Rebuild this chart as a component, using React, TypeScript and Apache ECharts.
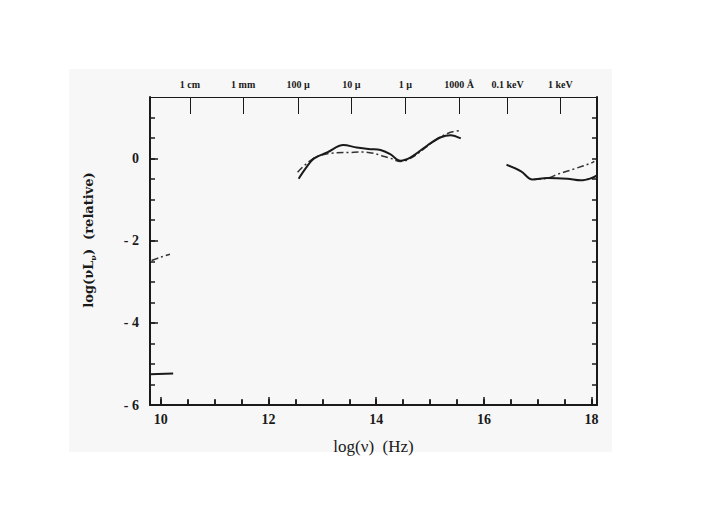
import React, { useEffect, useRef } from "react";
import * as echarts from "echarts";

// ---- data ----
const xMajor = [10, 12, 14, 16, 18];
const xMinor = [10, 10.5, 11, 11.5, 12, 12.5, 13, 13.5, 14, 14.5, 15, 15.5, 16, 16.5, 17, 17.5, 18];
const yMajor = [-6, -4, -2, 0];
const yMinor = [-6, -5.5, -5, -4.5, -4, -3.5, -3, -2.5, -2, -1.5, -1, -0.5, 0, 0.5, 1];
const wavePos = [10.54, 11.53, 12.55, 13.54, 14.54, 15.54, 16.44, 17.42];
const waveLabels = ["1 cm", "1 mm", "100 \u00b5", "10 \u00b5", "1 \u00b5", "1000 \u00c5", "0.1 keV", "1 keV"];

const irSolid = [
  [12.56, -0.49], [12.7, -0.22], [12.84, 0.0], [13.09, 0.15], [13.39, 0.33], [13.64, 0.27],
  [13.89, 0.23], [14.08, 0.21], [14.26, 0.11], [14.45, -0.05], [14.64, 0.03], [14.95, 0.32],
  [15.2, 0.52], [15.38, 0.57], [15.57, 0.49],
];
const irDash = [
  [12.54, -0.33], [12.83, 0.0], [13.15, 0.13], [13.52, 0.15], [13.75, 0.16], [13.95, 0.13],
  [14.1, 0.07], [14.26, 0.01], [14.45, -0.07], [14.64, 0.01], [14.88, 0.23], [15.13, 0.48],
  [15.38, 0.64], [15.54, 0.68],
];
const xraySolid = [
  [16.42, -0.15], [16.69, -0.31], [16.9, -0.51], [17.18, -0.47], [17.55, -0.49], [17.8, -0.53],
  [17.99, -0.48], [18.1, -0.41],
];
const xrayDash = [
  [16.93, -0.51], [17.2, -0.47], [17.37, -0.38], [17.68, -0.25], [17.99, -0.11], [18.05, -0.07],
];
const radioSolid = [[9.8, -5.25], [10.23, -5.23]];
const radioDash = [[9.83, -2.48], [10.0, -2.4], [10.17, -2.33]];

const X_MIN = 9.8;
const X_MAX = 18.1;
const Y_MIN = -6;
const Y_MAX = 1.5;

const GRID_TOP = 97;
const GRID_BOTTOM = 106;
const H = 511;
const PLOT_H = H - GRID_TOP - GRID_BOTTOM;

const INK = "#1a1a1a";
const SERIF = "'Liberation Serif', 'DejaVu Serif', serif";

export default function App() {
  const ref = useRef<HTMLDivElement>(null);
  useEffect(() => {
    if (!ref.current) return;
    const chart = echarts.init(ref.current, undefined, { renderer: "svg" });
    const solid = (data: number[][]) => ({
      type: "line",
      data,
      smooth: 0.35,
      showSymbol: false,
      xAxisIndex: 0,
      yAxisIndex: 0,
      lineStyle: { color: INK, width: 2 },
      z: 5,
    });
    const dashed = (data: number[][]) => ({
      type: "line",
      data,
      smooth: 0.35,
      showSymbol: false,
      xAxisIndex: 0,
      yAxisIndex: 0,
      lineStyle: { color: "#333", width: 1.5, type: [7, 3, 2, 3] },
      z: 4,
    });
    const bottomTicks = (values: number[], len: number) => ({
      type: "value",
      min: X_MIN,
      max: X_MAX,
      position: "top",
      offset: -PLOT_H,
      axisLine: { show: false, onZero: false },
      axisTick: { show: true, inside: false, length: len, customValues: values, lineStyle: { color: INK, width: 1.5 } },
      axisLabel: { show: false },
      splitLine: { show: false },
    });
    const fmtY = (v: number) => (v < 0 ? "- " + Math.abs(v) : String(v));
    chart.setOption({
      animation: false,
      backgroundColor: "#ffffff",
      grid: { left: 150, right: 127, top: GRID_TOP, bottom: GRID_BOTTOM },
      graphic: [
        {
          type: "rect",
          z: -100,
          shape: { x: 69, y: 69, width: 543, height: 383 },
          style: { fill: "#f7f7f7" },
          silent: true,
        },
        {
          type: "text",
          x: 88,
          y: 240,
          rotation: Math.PI / 2,
          style: {
            text: "{a|log(\u03bdL}{s|\u03bd}{a|)  (relative)}",
            align: "center",
            verticalAlign: "middle",
            fill: INK,
            rich: {
              a: { fontFamily: "'DejaVu Serif', serif", fontWeight: "bold", fontSize: 13, fill: INK, lineHeight: 18 },
              s: { fontFamily: "'DejaVu Serif', serif", fontWeight: "bold", fontSize: 8, fill: INK, lineHeight: 18, verticalAlign: "bottom" },
            },
          },
        },
      ],
      xAxis: [
        {
          type: "value",
          min: X_MIN,
          max: X_MAX,
          position: "bottom",
          axisLine: { show: true, onZero: false, lineStyle: { color: INK, width: 2 } },
          axisTick: { show: true, inside: true, length: 6, customValues: xMinor, lineStyle: { color: INK, width: 1.5 } },
          axisLabel: {
            customValues: xMajor,
            color: INK,
            fontFamily: SERIF,
            fontWeight: "bold",
            fontSize: 14,
            margin: 7,
          },
          splitLine: { show: false },
          name: "log(\u03bd)  (Hz)",
          nameLocation: "middle",
          nameGap: 33,
          nameTextStyle: { fontFamily: SERIF, fontSize: 17, color: INK },
        },
        {
          type: "value",
          min: X_MIN,
          max: X_MAX,
          position: "top",
          axisLine: { show: true, onZero: false, lineStyle: { color: INK, width: 1 } },
          axisTick: { show: true, inside: true, length: 17, customValues: wavePos, lineStyle: { color: INK, width: 1 } },
          axisLabel: {
            customValues: wavePos,
            formatter: (v: number) => {
              let best = 0;
              for (let i = 1; i < wavePos.length; i++) {
                if (Math.abs(wavePos[i] - v) < Math.abs(wavePos[best] - v)) best = i;
              }
              return waveLabels[best];
            },
            color: INK,
            fontFamily: SERIF,
            fontWeight: "bold",
            fontSize: 10,
            margin: 8,
          },
          splitLine: { show: false },
        },
        bottomTicks(xMinor, 5),
        bottomTicks(xMajor, 8),
      ],
      yAxis: [
        {
          type: "value",
          min: Y_MIN,
          max: Y_MAX,
          position: "left",
          axisLine: { show: true, onZero: false, lineStyle: { color: INK, width: 2 } },
          axisTick: { show: true, inside: true, length: 8, customValues: yMajor, lineStyle: { color: INK, width: 1.5 } },
          axisLabel: {
            customValues: yMajor,
            formatter: fmtY,
            color: INK,
            fontFamily: SERIF,
            fontWeight: "bold",
            fontSize: 14,
            margin: 11,
          },
          splitLine: { show: false },
        },
        {
          type: "value",
          min: Y_MIN,
          max: Y_MAX,
          position: "left",
          axisLine: { show: false, onZero: false },
          axisTick: { show: true, inside: true, length: 5, customValues: yMinor, lineStyle: { color: INK, width: 1.5 } },
          axisLabel: { show: false },
          splitLine: { show: false },
        },
        {
          type: "value",
          min: Y_MIN,
          max: Y_MAX,
          position: "right",
          axisLine: { show: true, onZero: false, lineStyle: { color: INK, width: 2 } },
          axisTick: { show: true, inside: true, length: 5, customValues: yMinor, lineStyle: { color: INK, width: 1.5 } },
          axisLabel: { show: false },
          splitLine: { show: false },
        },
      ],
      series: [
        solid(irSolid),
        dashed(irDash),
        solid(xraySolid),
        dashed(xrayDash),
        solid(radioSolid),
        dashed(radioDash),
      ],
    });
    return () => chart.dispose();
  }, []);
  return (
    <div
      ref={ref}
      style={{ position: "fixed", left: 0, top: 0, width: 724, height: 511 }}
    />
  );
}
